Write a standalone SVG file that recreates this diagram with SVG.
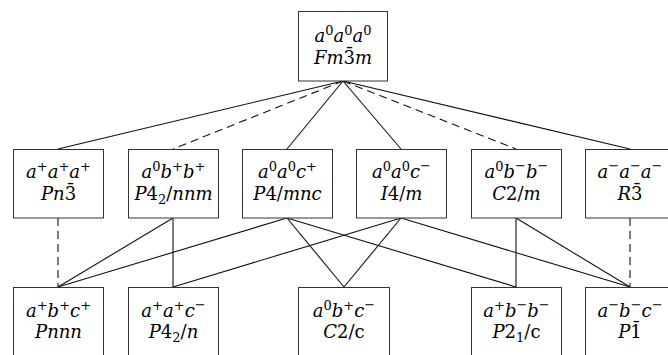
<svg xmlns="http://www.w3.org/2000/svg" width="668" height="355" viewBox="0 0 668 355">
<style>
.box{fill:#fff;stroke:#333;stroke-width:1}
.e{stroke:#111;stroke-width:1.1;fill:none}
.d{stroke-dasharray:8 5}
text{font-size:18px;fill:#000;text-anchor:middle}
.i{font-style:italic}
.s{font-size:13px}
</style>
<rect width="668" height="355" fill="#fff"/>
<g id="connectors">
<line class="e" x1="343" y1="81" x2="58" y2="149"/>
<line class="e d" x1="343" y1="81" x2="173" y2="149"/>
<line class="e" x1="343" y1="81" x2="287" y2="149"/>
<line class="e" x1="343" y1="81" x2="401" y2="149"/>
<line class="e d" x1="343" y1="81" x2="516" y2="149"/>
<line class="e" x1="343" y1="81" x2="630" y2="149"/>
<line class="e d" x1="58" y1="218" x2="58" y2="287"/>
<line class="e" x1="173" y1="218" x2="58" y2="287"/>
<line class="e" x1="173" y1="218" x2="173" y2="287"/>
<line class="e" x1="287" y1="218" x2="58" y2="287"/>
<line class="e" x1="287" y1="218" x2="344" y2="287"/>
<line class="e" x1="287" y1="218" x2="516" y2="287"/>
<line class="e" x1="401" y1="218" x2="173" y2="287"/>
<line class="e" x1="401" y1="218" x2="344" y2="287"/>
<line class="e" x1="401" y1="218" x2="630" y2="287"/>
<line class="e" x1="516" y1="218" x2="516" y2="287"/>
<line class="e" x1="516" y1="218" x2="630" y2="287"/>
<line class="e d" x1="630" y1="218" x2="630" y2="287"/>
</g>
<g font-family="'DejaVu Serif', 'Liberation Serif', serif">
<g id="Fm3m">
<rect class="box" x="298.5" y="11.5" width="89" height="69.5"/>
<text x="343" y="42"><tspan class="i">a</tspan><tspan class="s" dy="-7">0</tspan><tspan class="i" dy="7">a</tspan><tspan class="s" dy="-7">0</tspan><tspan class="i" dy="7">a</tspan><tspan class="s" dy="-7">0</tspan></text>
<text x="343" y="64"><tspan class="i">Fm</tspan>3<tspan dx="-10" dy="-3">¯</tspan><tspan class="i" dx="1" dy="3">m</tspan></text>
</g>
<g id="Pn3">
<rect class="box" x="13.5" y="149.5" width="90" height="68.5"/>
<text x="58.5" y="178"><tspan class="i">a</tspan><tspan class="s" dy="-7">+</tspan><tspan class="i" dy="7">a</tspan><tspan class="s" dy="-7">+</tspan><tspan class="i" dy="7">a</tspan><tspan class="s" dy="-7">+</tspan></text>
<text x="58.5" y="200"><tspan class="i">Pn</tspan>3<tspan dx="-10" dy="-3">¯</tspan></text>
</g>
<g id="P42nnm">
<rect class="box" x="128.5" y="149.5" width="90" height="68.5"/>
<text x="173.5" y="178"><tspan class="i">a</tspan><tspan class="s" dy="-7">0</tspan><tspan class="i" dy="7">b</tspan><tspan class="s" dy="-7">+</tspan><tspan class="i" dy="7">b</tspan><tspan class="s" dy="-7">+</tspan></text>
<text x="173.5" y="200"><tspan class="i">P</tspan>4<tspan class="s" dy="4">2</tspan><tspan dy="-4">/</tspan><tspan class="i">nnm</tspan></text>
</g>
<g id="P4mnc">
<rect class="box" x="242.5" y="149.5" width="90" height="68.5"/>
<text x="287.5" y="178"><tspan class="i">a</tspan><tspan class="s" dy="-7">0</tspan><tspan class="i" dy="7">a</tspan><tspan class="s" dy="-7">0</tspan><tspan class="i" dy="7">c</tspan><tspan class="s" dy="-7">+</tspan></text>
<text x="287.5" y="200"><tspan class="i">P</tspan>4/<tspan class="i">mnc</tspan></text>
</g>
<g id="I4m">
<rect class="box" x="356.5" y="149.5" width="90" height="68.5"/>
<text x="401.5" y="178"><tspan class="i">a</tspan><tspan class="s" dy="-7">0</tspan><tspan class="i" dy="7">a</tspan><tspan class="s" dy="-7">0</tspan><tspan class="i" dy="7">c</tspan><tspan class="s" dy="-8">−</tspan></text>
<text x="401.5" y="200"><tspan class="i">I</tspan>4/<tspan class="i">m</tspan></text>
</g>
<g id="C2m">
<rect class="box" x="471.5" y="149.5" width="90" height="68.5"/>
<text x="516.5" y="178"><tspan class="i">a</tspan><tspan class="s" dy="-7">0</tspan><tspan class="i" dy="7">b</tspan><tspan class="s" dy="-8">−</tspan><tspan class="i" dy="8">b</tspan><tspan class="s" dy="-8">−</tspan></text>
<text x="516.5" y="200"><tspan class="i">C</tspan>2/<tspan class="i">m</tspan></text>
</g>
<g id="R3">
<rect class="box" x="585.5" y="149.5" width="90" height="68.5"/>
<text x="630" y="178"><tspan class="i">a</tspan><tspan class="s" dy="-8">−</tspan><tspan class="i" dy="8">a</tspan><tspan class="s" dy="-8">−</tspan><tspan class="i" dy="8">a</tspan><tspan class="s" dy="-8">−</tspan></text>
<text x="630" y="200"><tspan class="i">R</tspan>3<tspan dx="-10" dy="-3">¯</tspan></text>
</g>
<g id="Pnnn">
<rect class="box" x="13.5" y="287.5" width="90" height="70"/>
<text x="58.5" y="317"><tspan class="i">a</tspan><tspan class="s" dy="-7">+</tspan><tspan class="i" dy="7">b</tspan><tspan class="s" dy="-7">+</tspan><tspan class="i" dy="7">c</tspan><tspan class="s" dy="-7">+</tspan></text>
<text x="58.5" y="338"><tspan class="i">Pnnn</tspan></text>
</g>
<g id="P42n">
<rect class="box" x="128.5" y="287.5" width="90" height="70"/>
<text x="173.5" y="317"><tspan class="i">a</tspan><tspan class="s" dy="-7">+</tspan><tspan class="i" dy="7">a</tspan><tspan class="s" dy="-7">+</tspan><tspan class="i" dy="7">c</tspan><tspan class="s" dy="-8">−</tspan></text>
<text x="173.5" y="338"><tspan class="i">P</tspan>4<tspan class="s" dy="4">2</tspan><tspan dy="-4">/</tspan><tspan class="i">n</tspan></text>
</g>
<g id="C2c">
<rect class="box" x="298.5" y="287.5" width="91" height="70"/>
<text x="344" y="317"><tspan class="i">a</tspan><tspan class="s" dy="-7">0</tspan><tspan class="i" dy="7">b</tspan><tspan class="s" dy="-7">+</tspan><tspan class="i" dy="7">c</tspan><tspan class="s" dy="-8">−</tspan></text>
<text x="344" y="338"><tspan class="i">C</tspan>2/c</text>
</g>
<g id="P21c">
<rect class="box" x="471.5" y="287.5" width="90" height="70"/>
<text x="516.5" y="317"><tspan class="i">a</tspan><tspan class="s" dy="-7">+</tspan><tspan class="i" dy="7">b</tspan><tspan class="s" dy="-8">−</tspan><tspan class="i" dy="8">b</tspan><tspan class="s" dy="-8">−</tspan></text>
<text x="516.5" y="338"><tspan class="i">P</tspan>2<tspan class="s" dy="4">1</tspan><tspan dy="-4">/c</tspan></text>
</g>
<g id="P1">
<rect class="box" x="585.5" y="287.5" width="90" height="70"/>
<text x="630" y="317"><tspan class="i">a</tspan><tspan class="s" dy="-8">−</tspan><tspan class="i" dy="8">b</tspan><tspan class="s" dy="-8">−</tspan><tspan class="i" dy="8">c</tspan><tspan class="s" dy="-8">−</tspan></text>
<text x="630" y="338"><tspan class="i">P</tspan>1<tspan dx="-10" dy="-3">¯</tspan></text>
</g>
</g>
</svg>
